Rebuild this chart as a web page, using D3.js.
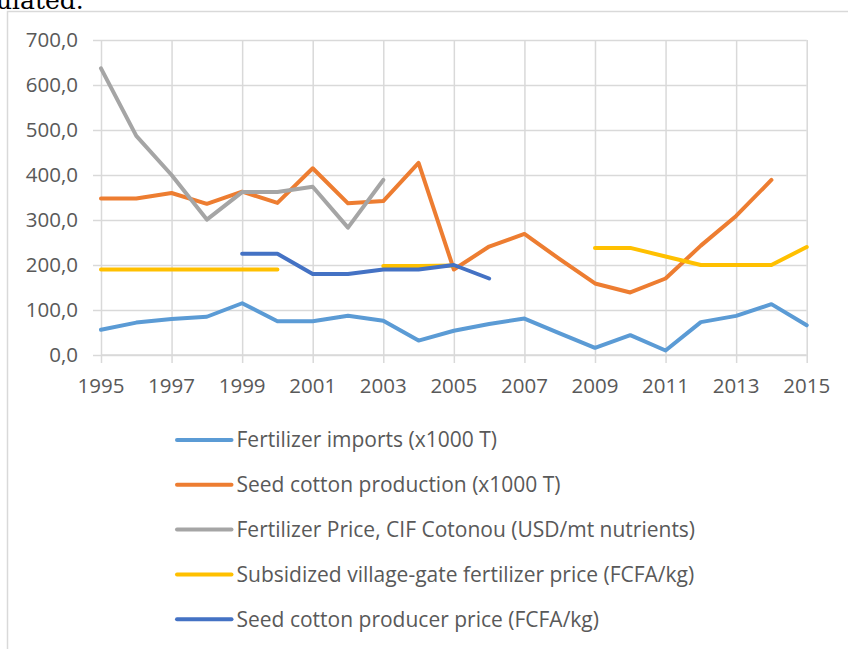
<!DOCTYPE html>
<html>
<head>
<meta charset="utf-8">
<script src="https://cdn.jsdelivr.net/npm/d3@7"></script>
<style>
  html, body { margin: 0; padding: 0; background: #fff; overflow: hidden; }
  svg { display: block; }
</style>
</head>
<body>
<svg id="chart" width="848" height="649"></svg>
<script>
const years = [1995,1996,1997,1998,1999,2000,2001,2002,2003,2004,2005,2006,2007,2008,2009,2010,2011,2012,2013,2014,2015];
const fertilizerImports = [56,72,80,85,115,75,75,87,76,32,54,69,81,48,16,44,10,73,87,113,66];
const seedCottonProduction = [348,348,360,336,363,338,415,337,342,427,190,241,269,213,159,139,170,243,309,389,null];
const fertilizerPriceCIF = [637,487,400,301,362,362,374,283,389,null,null,null,null,null,null,null,null,null,null,null,null];
const subsidizedPrice = [190,190,190,190,190,190,null,null,198,198,199,null,null,null,238,238,219,200,200,200,240];
const producerPrice = [null,null,null,null,225,225,180,180,190,190,200,170,null,null,null,null,null,null,null,null,null];

const seriesNames = [
  "Fertilizer imports (x1000 T)",
  "Seed cotton production (x1000 T)",
  "Fertilizer Price, CIF Cotonou (USD/mt nutrients)",
  "Subsidized village-gate fertilizer price (FCFA/kg)",
  "Seed cotton producer price (FCFA/kg)"
];
const seriesValues = [fertilizerImports, seedCottonProduction, fertilizerPriceCIF, subsidizedPrice, producerPrice];
const seriesColors = ["#5B9BD5", "#ED7D31", "#A5A5A5", "#FFC000", "#4472C4"];

const yTicks = [0,100,200,300,400,500,600,700];
const xTicks = [1995,1997,1999,2001,2003,2005,2007,2009,2011,2013,2015];

const svg = d3.select("#chart");
const gridColor = "#d9d9d9";
const textColor = "#595959";
const font = "'Open Sans', 'Noto Sans', sans-serif";

// clipped text from the surrounding document
svg.append("text")
  .attr("x", -4).attr("y", 9)
  .attr("font-family", "'DejaVu Serif', 'Liberation Serif', serif")
  .attr("font-size", 25)
  .attr("fill", "#000")
  .text("ulated.");

// chart border
svg.append("rect")
  .attr("x", 7.5).attr("y", 11.5)
  .attr("width", 860).attr("height", 660)
  .attr("fill", "none")
  .attr("stroke", gridColor).attr("stroke-width", 1.5);

const x = d3.scaleLinear().domain([1995, 2015]).range([101, 806.7]);
const y = d3.scaleLinear().domain([0, 700]).range([355, 40]);

// horizontal gridlines (with left tick extension)
const gy = svg.append("g").attr("transform", `translate(${x.range()[1]},0)`);
gy.call(d3.axisRight(y).tickValues(yTicks).tickSize(-(x.range()[1] - x.range()[0]) - 8).tickFormat(""));
gy.select(".domain").remove();
gy.selectAll(".tick line").attr("stroke", gridColor).attr("stroke-width", 1.5);

// y labels
svg.append("g").selectAll("text").data(yTicks).join("text")
  .attr("x", 78).attr("y", d => y(d))
  .attr("dy", "0.35em")
  .attr("text-anchor", "end")
  .attr("font-family", font).attr("font-size", 20.5)
  .attr("fill", textColor)
  .text(d => d3.format(".1f")(d).replace(".", ","));

// vertical gridlines at labelled years, extending below axis as ticks
const gx = svg.append("g").attr("transform", `translate(0,${y(0) + 8})`);
gx.call(d3.axisTop(x).tickValues(xTicks).tickSize(y(0) + 8 - y(700)).tickFormat(""));
gx.select(".domain").remove();
gx.selectAll(".tick line").attr("stroke", gridColor).attr("stroke-width", 1.5);

// x-axis line
svg.append("line")
  .attr("x1", x(1995)).attr("x2", x(2015))
  .attr("y1", y(0)).attr("y2", y(0))
  .attr("stroke", gridColor).attr("stroke-width", 1.5);

// x labels
svg.append("g").selectAll("text").data(xTicks).join("text")
  .attr("x", d => x(d)).attr("y", 393)
  .attr("text-anchor", "middle")
  .attr("font-family", font).attr("font-size", 20.5)
  .attr("fill", textColor)
  .text(d => d);

// series lines
const line = d3.line()
  .defined(d => d.v !== null)
  .x(d => x(d.year))
  .y(d => y(d.v));

seriesValues.forEach((vals, i) => {
  const data = years.map((yr, j) => ({ year: yr, v: vals[j] }));
  svg.append("path")
    .datum(data)
    .attr("d", line)
    .attr("fill", "none")
    .attr("stroke", seriesColors[i])
    .attr("stroke-width", 4)
    .attr("stroke-linejoin", "round")
    .attr("stroke-linecap", "round");
});

// legend
const legend = svg.append("g");
seriesNames.forEach((name, i) => {
  const ly = 440 + i * 44.8;
  legend.append("line")
    .attr("x1", 177).attr("x2", 231.5)
    .attr("y1", ly).attr("y2", ly)
    .attr("stroke", seriesColors[i])
    .attr("stroke-width", 4)
    .attr("stroke-linecap", "round");
  legend.append("text")
    .attr("x", 236.5).attr("y", ly)
    .attr("dy", "0.35em")
    .attr("font-family", font).attr("font-size", 21)
    .attr("fill", textColor)
    .text(name);
});
</script>
</body>
</html>
